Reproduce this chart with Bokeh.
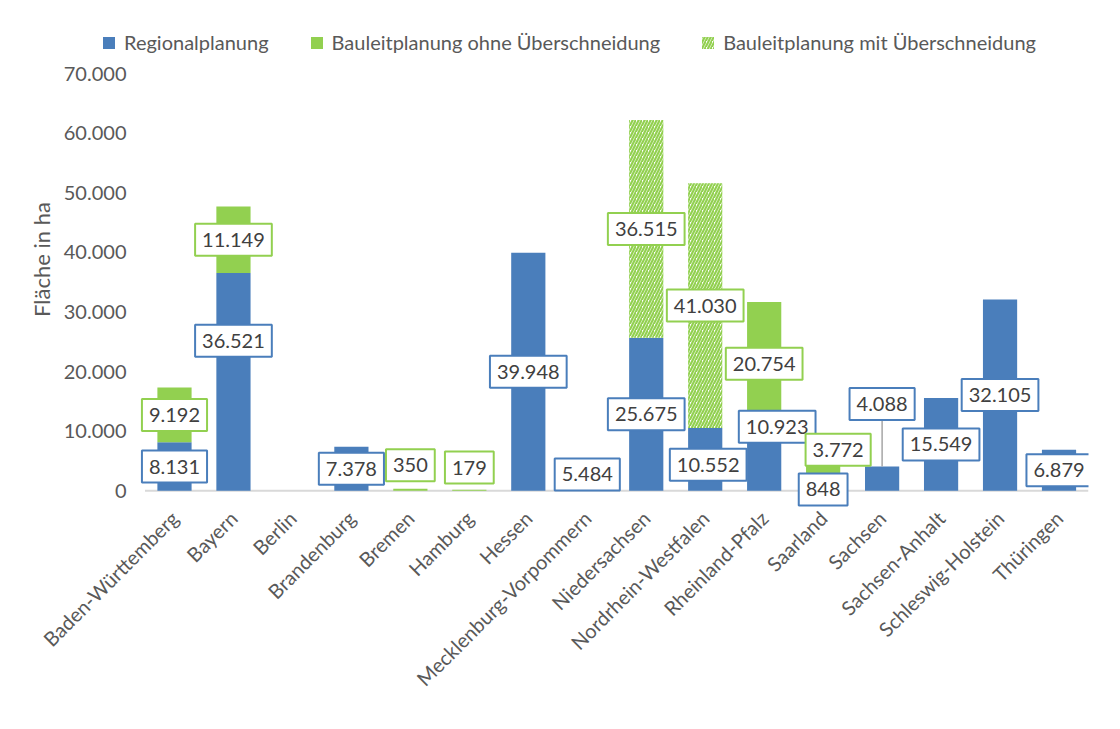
import math
from bokeh.plotting import figure
from bokeh.models import (ColumnDataSource, Legend, LegendItem, Range1d,
                          FixedTicker)
from bokeh.core.properties import value
from bokeh.embed import file_html
from bokeh.resources import INLINE

# ---------------- data ----------------
states = ["Baden-Württemberg", "Bayern", "Berlin", "Brandenburg", "Bremen",
          "Hamburg", "Hessen", "Mecklenburg-Vorpommern", "Niedersachsen",
          "Nordrhein-Westfalen", "Rheinland-Pfalz", "Saarland", "Sachsen",
          "Sachsen-Anhalt", "Schleswig-Holstein", "Thüringen"]
regional = [8131, 36521, 0, 7378, 0, 0, 39948, 5484, 25675, 10552, 10923,
            848, 4088, 15549, 32105, 6879]
bauleit_ohne = [9192, 11149, 0, 0, 350, 179, 0, 0, 0, 0, 20754, 3772,
                0, 0, 0, 0]
bauleit_mit = [0, 0, 0, 0, 0, 0, 0, 0, 36515, 41030, 0, 0, 0, 0, 0, 0]
series_names = ["Regionalplanung", "Bauleitplanung ohne Überschneidung",
                "Bauleitplanung mit Überschneidung"]
y_ticks = [0, 10000, 20000, 30000, 40000, 50000, 60000, 70000]
y_tick_labels = ["0", "10.000", "20.000", "30.000", "40.000", "50.000",
                 "60.000", "70.000"]

# ---------------- label placement (style: manual nudges) ----------------
regional_label_shift = [0, 6900, 0, 0, 0, 0, 0, 0, 0, -900, 5300, -200,
                        12500, 0, 0, 0]
regional_label_dx = [0, 0, 0, 0, 0, 0, 0, 0, 0, 3, 13, 0, 0, 0, 0, 0]
ohne_label_shift = [0, 0, 0, 0, 4100, 3800, 0, 0, 0, 0, 0, 4150,
                    0, 0, 0, 0]
ohne_label_dx = [0, 0, 0, 0, 0, 0, 0, 0, 0, 0, 0, 15, 0, 0, 0, 0]

FONT = "Lato"
BLUE = "#4a7ebb"
GREEN = "#92d050"
LABEL_TEXT = "#404040"
AXIS_TEXT = "#595959"


def fmt(v):
    return f"{v:,}".replace(",", ".")


idx = list(range(len(states)))
ohne_top = [r + o for r, o in zip(regional, bauleit_ohne)]
mit_top = [r + m for r, m in zip(regional, bauleit_mit)]

bars = ColumnDataSource(dict(x=idx, regional=regional,
                             ohne_top=ohne_top, mit_top=mit_top))

# frame is extended left/up (invisible) so the legend sits inside it
p = figure(x_range=Range1d(-1.56, len(states) - 0.5),
           y_range=Range1d(-2800, 80400),
           width=1110, height=720, output_backend="svg",
           toolbar_location=None, min_border_left=82, min_border_right=22,
           min_border_top=11, min_border_bottom=213)

# category axis line at zero, spanning the category band
p.segment(x0=[-0.5], y0=[0], x1=[len(states) - 0.5], y1=[0],
          line_color="#d9d9d9", line_width=2)

r1 = p.vbar(x="x", bottom=0, top="regional", width=0.58, source=bars,
            fill_color=BLUE, line_color=None)
r2 = p.vbar(x="x", bottom="regional", top="ohne_top", width=0.58,
            source=bars, fill_color=GREEN, line_color=None)
r3 = p.vbar(x="x", bottom="regional", top="mit_top", width=0.58,
            source=bars, fill_color="white", line_color=None,
            hatch_pattern="/", hatch_color=GREEN, hatch_scale=6,
            hatch_weight=2.2)

# ---------------- data labels ----------------
lx, ly, lt, lb, ldx = [], [], [], [], []
leader = dict(x=[], y0=[], y1=[])
for i in idx:
    if regional[i] > 0:
        y = regional[i] / 2 + regional_label_shift[i]
        lx.append(i); ly.append(y); lt.append(fmt(regional[i]))
        lb.append(BLUE); ldx.append(regional_label_dx[i])
        if y - regional[i] > 3000:
            leader["x"].append(i); leader["y0"].append(regional[i])
            leader["y1"].append(y)
    if bauleit_ohne[i] > 0:
        y = regional[i] + bauleit_ohne[i] / 2 + ohne_label_shift[i]
        lx.append(i); ly.append(y); lt.append(fmt(bauleit_ohne[i]))
        lb.append(GREEN); ldx.append(ohne_label_dx[i])
    if bauleit_mit[i] > 0:
        y = regional[i] + bauleit_mit[i] / 2
        lx.append(i); ly.append(y); lt.append(fmt(bauleit_mit[i]))
        lb.append(GREEN); ldx.append(0)

p.segment(x0="x", y0="y0", x1="x", y1="y1",
          source=ColumnDataSource(leader), line_color="#a6a6a6",
          line_width=1.5)

labels = ColumnDataSource(dict(x=lx, y=ly, text=lt, border=lb, dx=ldx))
p.text(x="x", y="y", text="text", x_offset="dx", source=labels,
       text_align="center", text_baseline="middle",
       text_font=value(FONT), text_font_size="20px", text_color=LABEL_TEXT,
       background_fill_color="white", border_line_color="border",
       border_line_width=2, padding=dict(x=7, y=9))

# ---------------- axes ----------------
p.xgrid.visible = False
p.ygrid.visible = False
p.outline_line_color = None

p.yaxis.ticker = FixedTicker(ticks=y_ticks)
p.yaxis.major_label_overrides = dict(zip(y_ticks, y_tick_labels))
p.yaxis.axis_line_color = None
p.yaxis.major_tick_line_color = None
p.yaxis.minor_tick_line_color = None
p.yaxis.major_label_standoff = -50
p.yaxis.major_label_text_font = FONT
p.yaxis.major_label_text_font_size = "20px"
p.yaxis.major_label_text_color = AXIS_TEXT
p.yaxis.axis_label = "Fläche in ha"
p.yaxis.axis_label_text_font = FONT
p.yaxis.axis_label_text_font_size = "22px"
p.yaxis.axis_label_text_font_style = "normal"
p.yaxis.axis_label_text_color = AXIS_TEXT
p.yaxis.axis_label_standoff = 6

p.xaxis.ticker = FixedTicker(ticks=idx)
p.xaxis.major_label_overrides = {i: s for i, s in zip(idx, states)}
p.xaxis.axis_line_color = None
p.xaxis.major_tick_line_color = None
p.xaxis.minor_tick_line_color = None
p.xaxis.major_label_orientation = math.pi / 4
p.xaxis.major_label_standoff = 1
p.xaxis.major_label_text_font = FONT
p.xaxis.major_label_text_font_size = "20px"
p.xaxis.major_label_text_color = AXIS_TEXT

# ---------------- legend ----------------
legend = Legend(items=[LegendItem(label=series_names[0], renderers=[r1]),
                       LegendItem(label=series_names[1], renderers=[r2]),
                       LegendItem(label=series_names[2], renderers=[r3])],
                orientation="horizontal", location="top_left",
                glyph_width=15, glyph_height=15, label_standoff=8,
                spacing=40, padding=0, margin=19, border_line_color=None,
                background_fill_alpha=0, label_text_font=FONT,
                label_text_font_size="20px", label_text_color=AXIS_TEXT,
                label_height=24)
p.add_layout(legend)

open("out.html", "w").write(file_html(p, INLINE))
